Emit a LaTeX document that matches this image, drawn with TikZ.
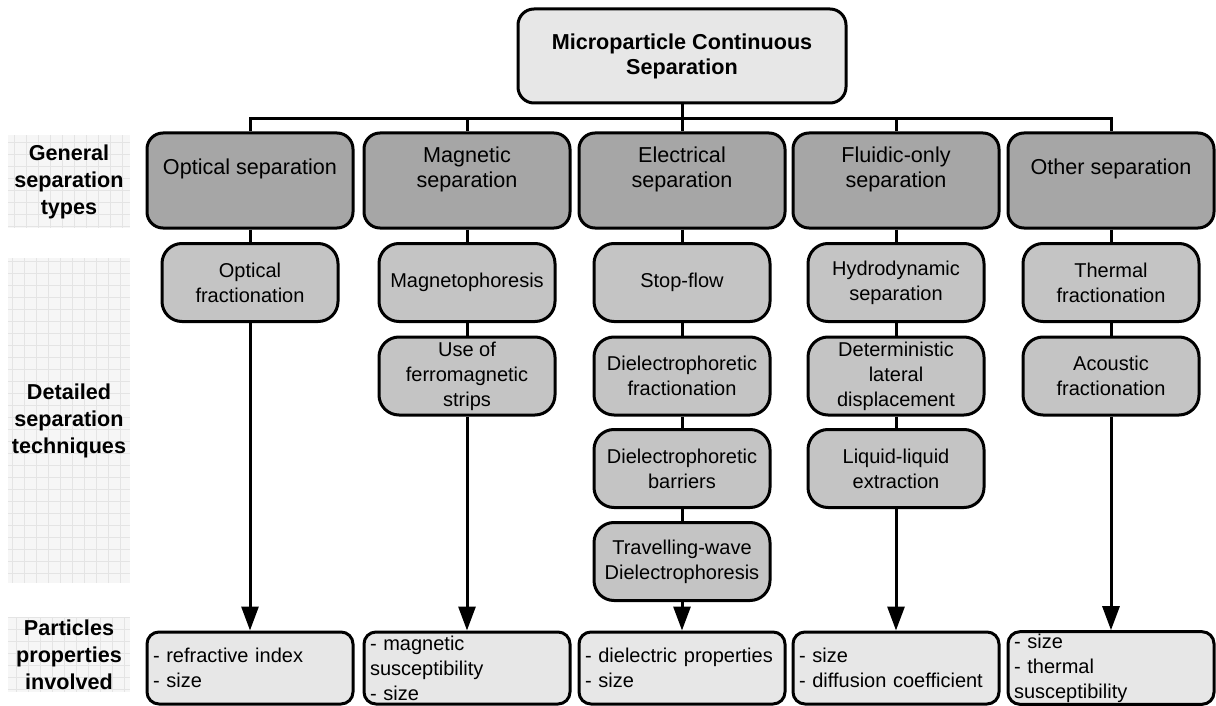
\documentclass[tikz,border=0pt]{standalone}
\usepackage{fontspec}
\setmainfont{Liberation Sans}
\usetikzlibrary{arrows.meta}
\definecolor{boxlight}{RGB}{231,231,231}
\definecolor{boxdark}{RGB}{166,166,166}
\definecolor{boxmid}{RGB}{196,196,196}
\definecolor{lblback}{RGB}{246,246,246}
\definecolor{lblgrid}{RGB}{228,228,228}
\tikzset{
  topbox/.style={draw,line width=1.5pt,rounded corners=8pt,fill=boxlight,minimum width=164pt,minimum height=47pt,align=center,font=\fontsize{10.8}{12.5}\selectfont\bfseries},
  typebox/.style={draw,line width=1.5pt,rounded corners=8pt,fill=boxdark,minimum width=103pt,minimum height=47.5pt},
  typetext/.style={align=center,font=\fontsize{10.8}{12.5}\selectfont},
  techbox/.style={draw,line width=1.5pt,rounded corners=10pt,fill=boxmid,minimum width=88pt,minimum height=39pt,inner sep=1pt,align=center,font=\fontsize{10}{12.5}\selectfont},
  propbox/.style={draw,line width=1.5pt,rounded corners=6pt,fill=boxlight,minimum height=36pt,text width=97pt,inner xsep=3pt,inner ysep=1pt,align=left,font=\fontsize{10}{12.5}\selectfont},
  lblbox/.style={fill=lblback,minimum width=61pt,inner xsep=2pt,inner ysep=0pt,align=center,font=\fontsize{10.8}{13.5}\selectfont\bfseries,
    path picture={\draw[lblgrid,step=6pt] (path picture bounding box.south west) grid (path picture bounding box.north east);}},
  link/.style={line width=1.5pt},
  arr/.style={line width=1.5pt,-{Triangle[width=8.5pt,length=12pt]}}
}
\begin{document}
\begin{tikzpicture}[x=0.5pt,y=-0.5pt]
  \useasboundingbox (0,0) rectangle (1216,706);
  % row labels
  \node (gen) at (69,181.5) [lblbox,minimum height=46.5pt] {General\\separation\\types};
  \node (det) at (69,420.5) [lblbox,minimum height=162.5pt] {Detailed\\separation\\techniques};
  \node (par) at (69,654.5) [lblbox,minimum height=37.5pt] {Particles\\properties\\involved};
  % top and separation types
  \node (top) at (682,56) [topbox] {Microparticle Continuous\\Separation};
  \node (opt) at (250,180.5) [typebox] {}; \node (mag) at (467,180.5) [typebox] {}; \node (ele) at (682,180.5) [typebox] {};
  \node (flu) at (896,180.5) [typebox] {}; \node (oth) at (1111,180.5) [typebox] {};
  \node (opt-t) at (250,169) [typetext] {Optical separation}; \node (mag-t) at (467,169) [typetext] {Magnetic\\separation};
  \node (ele-t) at (682,169) [typetext] {Electrical\\separation}; \node (flu-t) at (896,169) [typetext] {Fluidic-only\\separation};
  \node (oth-t) at (1111,169) [typetext] {Other separation};
  % techniques
  \node (ofrac) at (250,282.5) [techbox] {Optical\\fractionation};
  \node (mphor) at (467,282.5) [techbox] {Magnetophoresis}; \node (ferro) at (467,376) [techbox] {Use of\\ferromagnetic\\strips};
  \node (stopf) at (682,282.5) [techbox] {Stop-flow}; \node (dfrac) at (682,376) [techbox] {Dielectrophoretic\\fractionation};
  \node (dbarr) at (682,468.5) [techbox] {Dielectrophoretic\\barriers}; \node (twdep) at (682,561.5) [techbox] {Travelling-wave\\Dielectrophoresis};
  \node (hydro) at (896,282.5) [techbox] {Hydrodynamic\\separation}; \node (dld) at (896,376) [techbox] {Deterministic\\lateral\\displacement};
  \node (lle) at (896,468.5) [techbox] {Liquid-liquid\\extraction};
  \node (therm) at (1111,282.5) [techbox] {Thermal\\fractionation}; \node (acous) at (1111,376) [techbox] {Acoustic\\fractionation};
  % properties
  \node (popt) at (250,668) [propbox] {- refractive index\\- size};
  \node (pmag) at (467,668) [propbox] {- magnetic\\susceptibility\\- size};
  \node (pele) at (682,668) [propbox] {- dielectric properties\\- size};
  \node (pflu) at (896,668) [propbox] {- size\\- diffusion coefficient};
  \node (poth) at (1111,668) [propbox] {- size\\- thermal\\susceptibility};
  % tree
  \coordinate (bar) at (682,119);
  \draw[link] (top.south) -- (top.south |- bar);
  \draw[link] (opt.north) -- (opt.north |- bar) -- (oth.north |- bar) -- (oth.north);
  \foreach \t in {mag,ele,flu} \draw[link] (\t.north |- bar) -- (\t.north);
  \draw[link] (opt.south) -- (ofrac.north); \draw[link] (mag.south) -- (mphor.north) (mphor.south) -- (ferro.north);
  \draw[link] (ele.south) -- (stopf.north) (stopf.south) -- (dfrac.north) (dfrac.south) -- (dbarr.north) (dbarr.south) -- (twdep.north);
  \draw[link] (flu.south) -- (hydro.north) (hydro.south) -- (dld.north) (dld.south) -- (lle.north);
  \draw[link] (oth.south) -- (therm.north) (therm.south) -- (acous.north);
  \draw[arr] (ofrac.south) -- (popt.north); \draw[arr] (ferro.south) -- (pmag.north); \draw[arr] (twdep.south) -- (pele.north);
  \draw[arr] (lle.south) -- (pflu.north); \draw[arr] (acous.south) -- (poth.north);
\end{tikzpicture}
\end{document}
